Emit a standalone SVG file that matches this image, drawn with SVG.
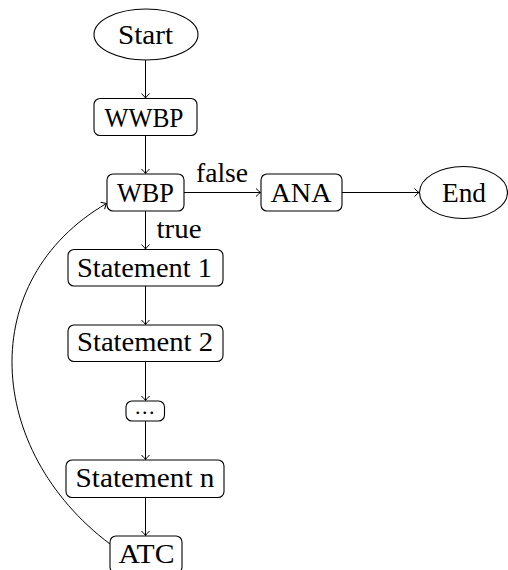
<svg xmlns="http://www.w3.org/2000/svg" width="508" height="570" viewBox="0 0 508 570">
  <style>
    .shape { fill: #ffffff; stroke: #000000; stroke-width: 1.1; }
    .label { font-family: "Liberation Serif", "DejaVu Serif", serif; font-size: 27px; fill: #000000; text-anchor: middle; }
    .edge { fill: none; stroke: #000000; stroke-width: 1; marker-end: url(#tip); }
    .edge-label { font-family: "Liberation Serif", "DejaVu Serif", serif; font-size: 27px; fill: #000000; }
  </style>
  <defs>
    <marker id="tip" viewBox="-6 -5 8 10" markerWidth="8" markerHeight="10" refX="0" refY="0" orient="auto" markerUnits="userSpaceOnUse">
      <path d="M -4.5 -4 Q -1.5 -1 0 0 Q -1.5 1 -4.5 4" fill="none" stroke="#000000" stroke-width="1"/>
    </marker>
  </defs>
  <rect width="508" height="570" fill="#ffffff"/>

  <!-- connectors -->
  <g id="connectors">
    <path class="edge" d="M 145.5 60 L 145.5 98"/>
    <path class="edge" d="M 145.5 135.5 L 145.5 173.5"/>
    <path class="edge" d="M 145.5 211 L 145.5 249"/>
    <path class="edge" d="M 145.5 286 L 145.5 324.5"/>
    <path class="edge" d="M 145.5 362 L 145.5 400.5"/>
    <path class="edge" d="M 145.5 421 L 145.5 459.5"/>
    <path class="edge" d="M 145.5 497.5 L 145.5 535.5"/>
    <path class="edge" d="M 184 192.5 L 260.5 192.5"/>
    <path class="edge" d="M 342 192.5 L 419 192.5"/>
    <path class="edge" d="M 110 544 C -15 450 -25 280 106.5 203.5"/>
    <text class="edge-label" x="196" y="182" textLength="52" lengthAdjust="spacingAndGlyphs">false</text>
    <text class="edge-label" x="156.5" y="238" textLength="45" lengthAdjust="spacingAndGlyphs">true</text>
  </g>

  <g id="start">
    <ellipse class="shape" cx="146" cy="34.5" rx="52" ry="25.5"/>
    <text class="label" x="145.5" y="43.5" textLength="55" lengthAdjust="spacingAndGlyphs">Start</text>
  </g>
  <g id="wwbp">
    <rect class="shape" x="94" y="98.5" width="103" height="37" rx="6"/>
    <text class="label" x="144" y="126.5" textLength="79" lengthAdjust="spacingAndGlyphs">WWBP</text>
  </g>
  <g id="wbp">
    <rect class="shape" x="107" y="174" width="77" height="37" rx="6"/>
    <text class="label" x="145.5" y="201.5" textLength="57" lengthAdjust="spacingAndGlyphs">WBP</text>
  </g>
  <g id="ana">
    <rect class="shape" x="261" y="174" width="81" height="37" rx="6"/>
    <text class="label" x="301" y="201.5" textLength="61" lengthAdjust="spacingAndGlyphs">ANA</text>
  </g>
  <g id="end">
    <ellipse class="shape" cx="463.5" cy="192.5" rx="44" ry="26"/>
    <text class="label" x="464" y="201.5" textLength="44" lengthAdjust="spacingAndGlyphs">End</text>
  </g>
  <g id="statement-1">
    <rect class="shape" x="68" y="249.5" width="155" height="36.5" rx="6"/>
    <text class="label" x="144.5" y="276.5" textLength="135" lengthAdjust="spacingAndGlyphs">Statement 1</text>
  </g>
  <g id="statement-2">
    <rect class="shape" x="68" y="325" width="155" height="36.5" rx="6"/>
    <text class="label" x="145" y="351" textLength="136" lengthAdjust="spacingAndGlyphs">Statement 2</text>
  </g>
  <g id="ellipsis">
    <rect class="shape" x="126" y="401" width="38.5" height="20" rx="6"/>
    <text class="label" x="145.5" y="414" style="font-size:22px;letter-spacing:1.5px">...</text>
  </g>
  <g id="statement-n">
    <rect class="shape" x="66" y="460" width="158" height="37.5" rx="6"/>
    <text class="label" x="145" y="486.5" textLength="139" lengthAdjust="spacingAndGlyphs">Statement n</text>
  </g>
  <g id="atc">
    <rect class="shape" x="110" y="536" width="72" height="37" rx="6"/>
    <text class="label" x="146.5" y="563" textLength="56" lengthAdjust="spacingAndGlyphs">ATC</text>
  </g>
</svg>
